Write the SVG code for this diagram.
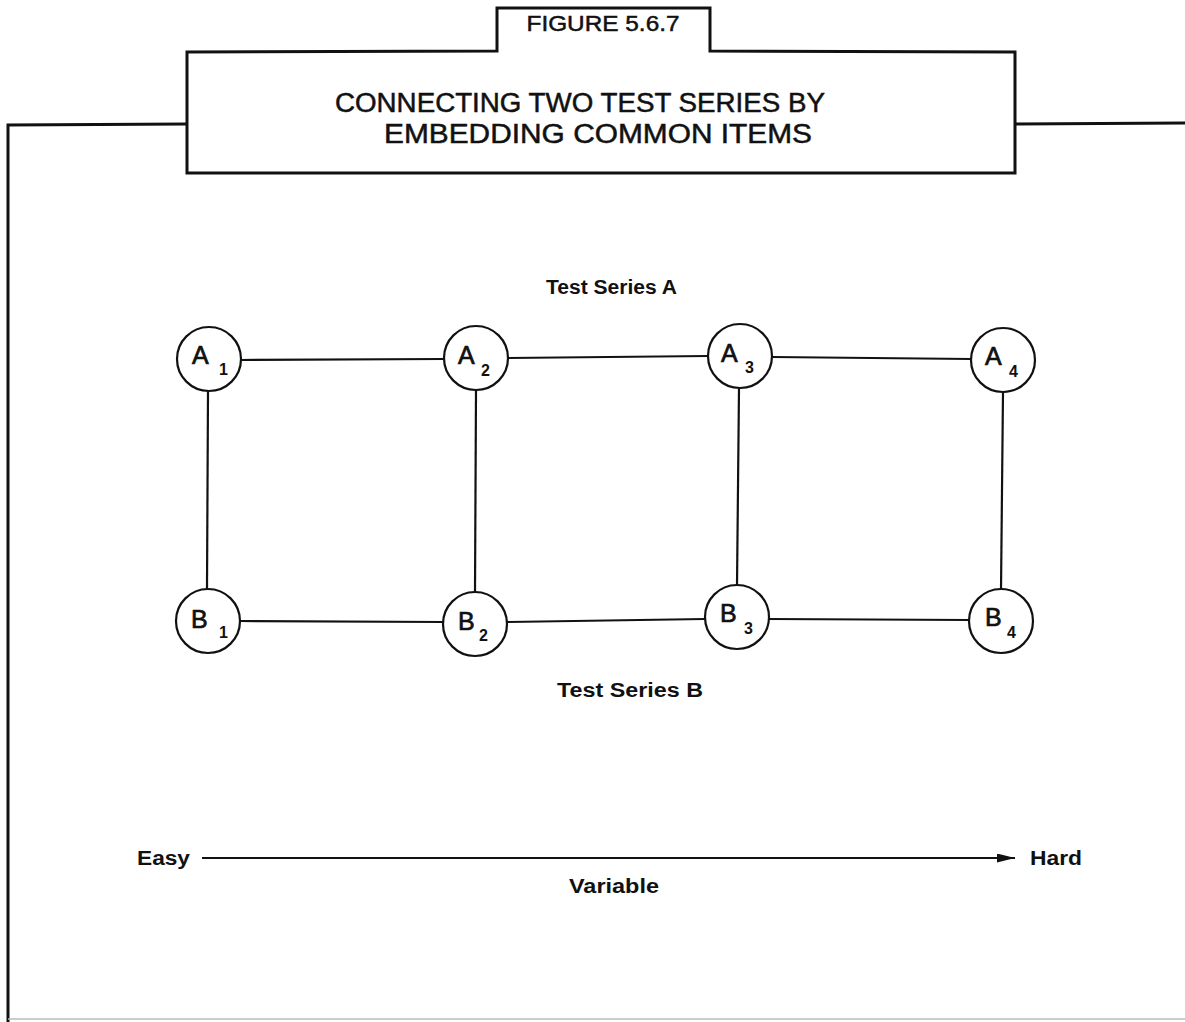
<svg xmlns="http://www.w3.org/2000/svg" width="1185" height="1022" viewBox="0 0 1185 1022">
<defs>
<marker id="ah" viewBox="0 0 10 10" refX="10" refY="5" markerWidth="18" markerHeight="9" markerUnits="userSpaceOnUse" orient="auto" preserveAspectRatio="none"><path d="M0,0 L10,5 L0,10 z" fill="#111"/></marker>
<style>
.frame{fill:none;stroke:#111;stroke-width:3}
.node circle{fill:#fff;stroke:#111;stroke-width:2.2}
.lt{font-family:"Liberation Sans",Arial,sans-serif;font-size:25px;fill:#111;stroke:#111;stroke-width:0.7}
.sub{font-family:"Liberation Sans",Arial,sans-serif;font-size:16px;font-weight:bold;fill:#111}
.edge{stroke:#111;stroke-width:2.2;fill:none}
.lbl{font-family:"Liberation Sans",Arial,sans-serif;font-size:20px;font-weight:bold;fill:#111}
.hdr{font-family:"Liberation Sans",Arial,sans-serif;fill:#111;stroke:#111;stroke-width:0.5}
</style>
</defs>
<rect width="1185" height="1022" fill="#fff"/>
<g id="frame">
<path class="frame" d="M8,1022 L8,125 L187,124"/>
<path class="frame" d="M1015,124 L1185,123"/>
<line x1="8" y1="1019" x2="1185" y2="1019" stroke="#bbb" stroke-width="1.5"/>
<path class="frame" d="M187,52 L497,51 L497,8 L710,8 L710,51 L1015,52 L1015,173 L187,173 Z"/>
<text class="hdr" x="603" y="31" font-size="22" text-anchor="middle" textLength="153" lengthAdjust="spacingAndGlyphs">FIGURE 5.6.7</text>
<text class="hdr" x="580" y="112" font-size="27" text-anchor="middle" textLength="490" lengthAdjust="spacingAndGlyphs">CONNECTING TWO TEST SERIES BY</text>
<text class="hdr" x="598" y="143" font-size="27" text-anchor="middle" textLength="428" lengthAdjust="spacingAndGlyphs">EMBEDDING COMMON ITEMS</text>
</g>
<g id="connectors">
<line class="edge" x1="241" y1="360" x2="444" y2="359"/>
<line class="edge" x1="508" y1="358" x2="708" y2="356"/>
<line class="edge" x1="772" y1="357" x2="971" y2="359"/>
<line class="edge" x1="240" y1="621" x2="443" y2="622"/>
<line class="edge" x1="507" y1="622" x2="705" y2="619"/>
<line class="edge" x1="769" y1="619" x2="969" y2="620"/>
<line class="edge" x1="208" y1="391" x2="207" y2="589"/>
<line class="edge" x1="476" y1="390" x2="475" y2="592"/>
<line class="edge" x1="739" y1="388" x2="737" y2="586"/>
<line class="edge" x1="1003" y1="392" x2="1001" y2="590"/>
<line class="edge" x1="202" y1="858" x2="1015" y2="858" marker-end="url(#ah)"/>
</g>
<g id="A1" class="node"><circle cx="209" cy="359" r="32"/><text class="lt" x="192" y="364">A</text><text class="sub" x="219" y="375">1</text></g>
<g id="A2" class="node"><circle cx="476" cy="358" r="32"/><text class="lt" x="458" y="364">A</text><text class="sub" x="481" y="376">2</text></g>
<g id="A3" class="node"><circle cx="740" cy="356" r="32"/><text class="lt" x="721" y="362">A</text><text class="sub" x="745" y="373">3</text></g>
<g id="A4" class="node"><circle cx="1003" cy="360" r="32"/><text class="lt" x="985" y="365">A</text><text class="sub" x="1009" y="377">4</text></g>
<g id="B1" class="node"><circle cx="208" cy="621" r="32"/><text class="lt" x="191" y="628">B</text><text class="sub" x="219" y="638">1</text></g>
<g id="B2" class="node"><circle cx="475" cy="624" r="32"/><text class="lt" x="458" y="630">B</text><text class="sub" x="479" y="641">2</text></g>
<g id="B3" class="node"><circle cx="737" cy="617" r="32"/><text class="lt" x="720" y="622">B</text><text class="sub" x="744" y="634">3</text></g>
<g id="B4" class="node"><circle cx="1001" cy="621" r="32"/><text class="lt" x="985" y="626">B</text><text class="sub" x="1007" y="638">4</text></g>
<g id="labels">
<text class="lbl" x="546" y="294" textLength="131" lengthAdjust="spacingAndGlyphs">Test Series A</text>
<text class="lbl" x="557" y="697" textLength="146" lengthAdjust="spacingAndGlyphs">Test Series B</text>
<text class="lbl" x="137" y="865" textLength="53" lengthAdjust="spacingAndGlyphs">Easy</text>
<text class="lbl" x="1030" y="865" textLength="52" lengthAdjust="spacingAndGlyphs">Hard</text>
<text class="lbl" x="569" y="893" textLength="90" lengthAdjust="spacingAndGlyphs">Variable</text>
</g>
</svg>
